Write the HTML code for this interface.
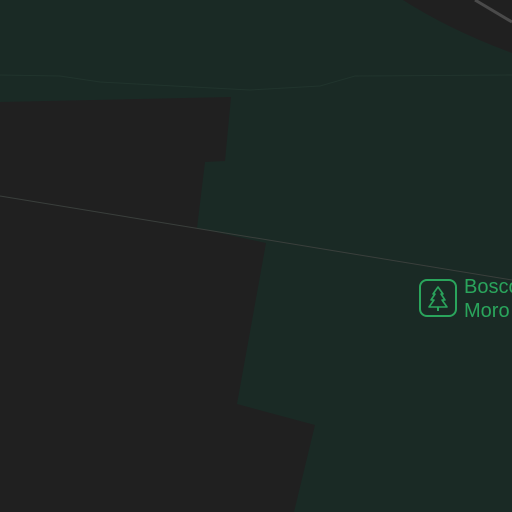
<!DOCTYPE html>
<html><head><style>
html,body{margin:0;padding:0;width:512px;height:512px;overflow:hidden;background:#1a2a25}
</style></head><body>
<svg width="512" height="512" viewBox="0 0 512 512" style="display:block">
<rect width="512" height="512" fill="#1a2a25"/>
<path d="M0,75 L60,76 L100,82 L250,90 L320,86 L355,76 L512,75" fill="none" stroke="#21342d" stroke-width="1"/>
<polygon points="0,102 231,97 225,161 205,162 197,228 266,243 237,404 315,425 294,512 0,512" fill="#202020"/>
<path d="M403,0 L512,0 L512,53 Q450,30 403,0 Z" fill="#202020"/>
<line x1="475" y1="0" x2="512" y2="22" stroke="#4a4a4a" stroke-width="3"/>
<line x1="0" y1="196" x2="512" y2="280" stroke="#3a3f3c" stroke-width="1"/>
<g>
<rect x="420" y="280" width="36" height="36" rx="7" fill="none" stroke="#2aa55c" stroke-width="2"/>
<path d="M438,287 L433,294 L435,294 L431,300 L434,300 L429,307 L447,307 L442,300 L445,300 L441,294 L443,294 Z" fill="none" stroke="#2aa55c" stroke-width="1.6" stroke-linejoin="round"/>
<line x1="438" y1="307" x2="438" y2="311" stroke="#2aa55c" stroke-width="2"/>
</g>
<text x="464" y="293" font-family="Liberation Sans, sans-serif" font-size="20" fill="#2aa55c">Bosco</text>
<text x="464" y="317" font-family="Liberation Sans, sans-serif" font-size="20" fill="#2aa55c">Moro</text>
</svg>
</body></html>
